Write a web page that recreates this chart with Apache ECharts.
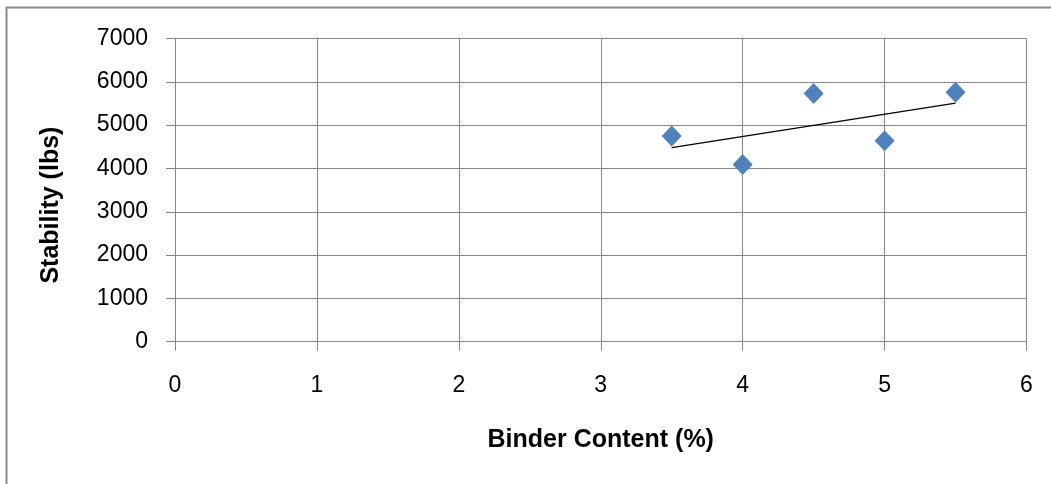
<!DOCTYPE html>
<html><head><meta charset="utf-8">
<script src="https://cdn.jsdelivr.net/npm/echarts@6/dist/echarts.min.js"></script>
<style>html,body{margin:0;padding:0;background:#fff}#c{width:1051px;height:484px}</style>
</head><body><div id="c"></div>
<script>
const binderContent = [3.5, 4.0, 4.5, 5.0, 5.5];
const stability = [4750, 4090, 5730, 4640, 5760];
const xTitle = 'Binder Content (%)';
const yTitle = 'Stability (lbs)';

// linear least-squares trendline from the data
const n = binderContent.length;
const mx = binderContent.reduce((a,b)=>a+b,0)/n;
const my = stability.reduce((a,b)=>a+b,0)/n;
let sxy=0,sxx=0;
for(let i=0;i<n;i++){sxy+=(binderContent[i]-mx)*(stability[i]-my);sxx+=(binderContent[i]-mx)**2;}
const slope=sxy/sxx, icpt=my-slope*mx;
const xmin=Math.min(...binderContent), xmax=Math.max(...binderContent);
const trend=[[xmin,icpt+slope*xmin],[xmax,icpt+slope*xmax]];

const chart = echarts.init(document.getElementById('c'), null, {renderer:'canvas'});
const font = 'Liberation Sans';
chart.setOption({
  animation:false,
  graphic:[{type:'rect',shape:{x:6.5,y:7.5,width:1200,height:700},style:{fill:'none',stroke:'#8c8c8c',lineWidth:2},silent:true}],
  grid:{left:175,top:38.5,right:24.5,bottom:142.3,containLabel:false},
  xAxis:{type:'value',min:0,max:6,interval:1,
    name:xTitle,nameLocation:'middle',nameGap:86,
    nameTextStyle:{fontFamily:font,fontWeight:'bold',fontSize:25,color:'#000'},
    axisLine:{show:true,onZero:false,lineStyle:{color:'#868686',width:1}},
    axisTick:{show:true,length:9,lineStyle:{color:'#868686'}},
    axisLabel:{margin:32,fontFamily:font,fontSize:23,color:'#000'},
    splitLine:{show:true,lineStyle:{color:'#868686',width:1}}},
  yAxis:{type:'value',min:0,max:7000,interval:1000,
    name:yTitle,nameLocation:'middle',nameGap:111,nameRotate:90,
    nameTextStyle:{fontFamily:font,fontWeight:'bold',fontSize:25,color:'#000',padding:[0,30,0,0]},
    axisLine:{show:true,lineStyle:{color:'#868686',width:1}},
    axisTick:{show:true,length:9,lineStyle:{color:'#868686'}},
    axisLabel:{margin:27,fontFamily:font,fontSize:23,color:'#000',formatter:v=>String(v)},
    splitLine:{show:true,lineStyle:{color:'#868686',width:1}}},
  series:[
    {type:'line',data:trend,symbol:'none',lineStyle:{color:'#000',width:1.3},z:2,silent:true},
    {type:'scatter',data:binderContent.map((x,i)=>[x,stability[i]]),symbol:'diamond',symbolSize:[20,21],
     itemStyle:{color:'#4F81BD',opacity:1},z:3}
  ]
});
</script></body></html>
